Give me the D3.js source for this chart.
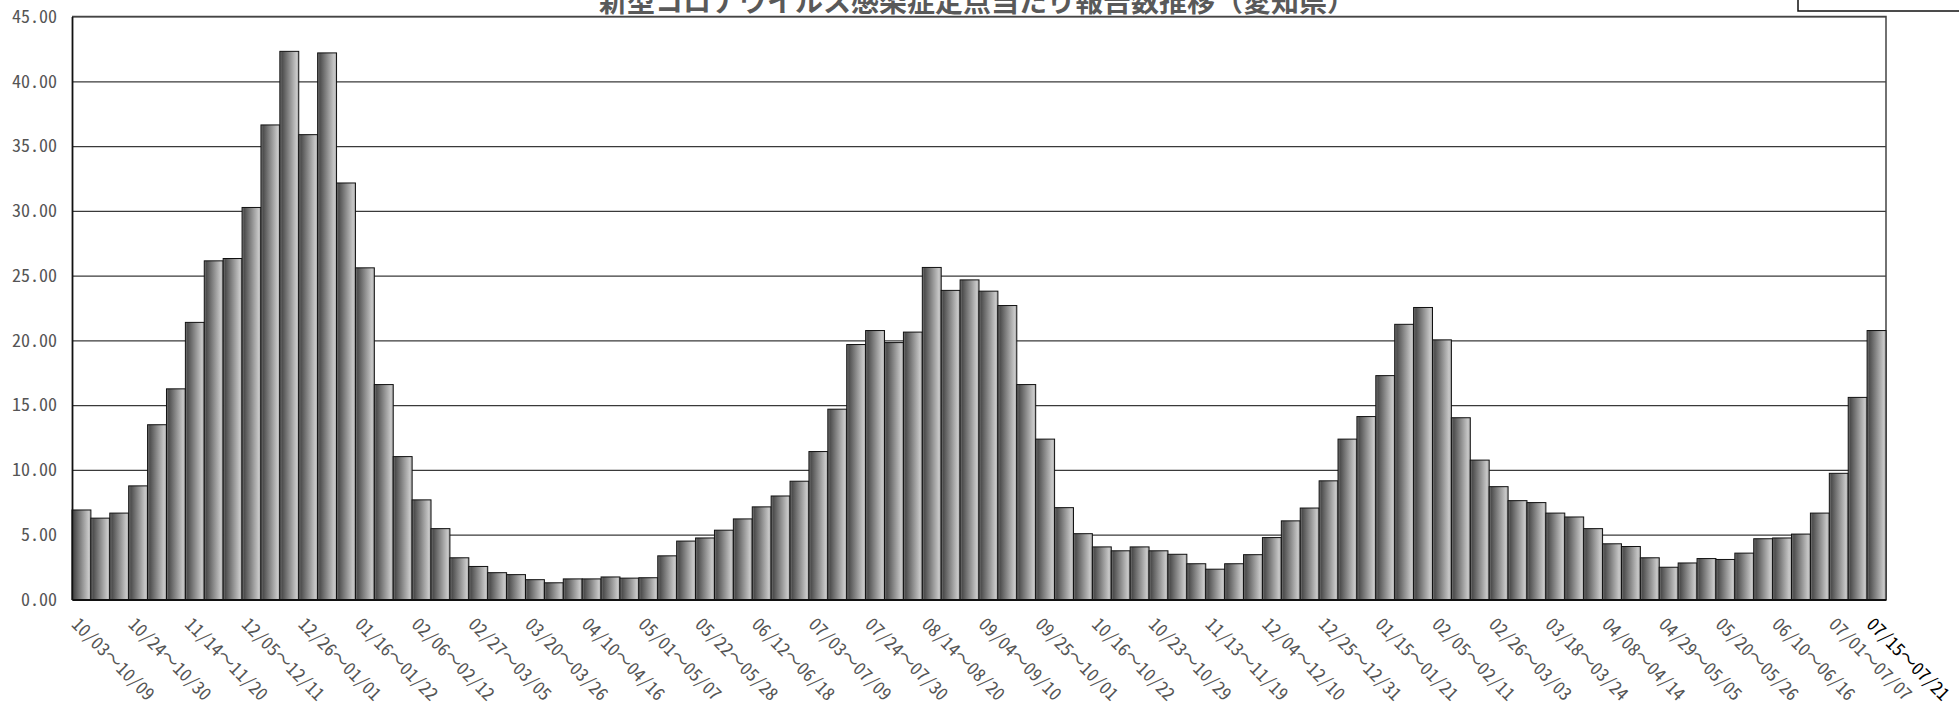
<!DOCTYPE html>
<html>
<head>
<meta charset="utf-8">
<script src="https://cdn.jsdelivr.net/npm/d3@7"></script>
<style>
  body { margin: 0; background: #fff; }
  svg { display: block; }
  .tick text { font-family: "Noto Sans Mono CJK JP", "DejaVu Sans Mono", "Noto Sans CJK JP", monospace; }
</style>
</head>
<body>
<svg width="1959" height="715"></svg>
<script>
// weekly periods (index 55/56 repeat the 10/23 and 10/16 weeks, as in the source sheet)
var categories = [
  "10/03～10/09","10/10～10/16","10/17～10/23","10/24～10/30","10/31～11/06","11/07～11/13",
  "11/14～11/20","11/21～11/27","11/28～12/04","12/05～12/11","12/12～12/18","12/19～12/25",
  "12/26～01/01","01/02～01/08","01/09～01/15","01/16～01/22","01/23～01/29","01/30～02/05",
  "02/06～02/12","02/13～02/19","02/20～02/26","02/27～03/05","03/06～03/12","03/13～03/19",
  "03/20～03/26","03/27～04/02","04/03～04/09","04/10～04/16","04/17～04/23","04/24～04/30",
  "05/01～05/07","05/08～05/14","05/15～05/21","05/22～05/28","05/29～06/04","06/05～06/11",
  "06/12～06/18","06/19～06/25","06/26～07/02","07/03～07/09","07/10～07/16","07/17～07/23",
  "07/24～07/30","07/31～08/06","08/07～08/13","08/14～08/20","08/21～08/27","08/28～09/03",
  "09/04～09/10","09/11～09/17","09/18～09/24","09/25～10/01","10/02～10/08","10/09～10/15",
  "10/16～10/22","10/23～10/29","10/16～10/22","10/23～10/29","10/30～11/05","11/06～11/12",
  "11/13～11/19","11/20～11/26","11/27～12/03","12/04～12/10","12/11～12/17","12/18～12/24",
  "12/25～12/31","01/01～01/07","01/08～01/14","01/15～01/21","01/22～01/28","01/29～02/04",
  "02/05～02/11","02/12～02/18","02/19～02/25","02/26～03/03","03/04～03/10","03/11～03/17",
  "03/18～03/24","03/25～03/31","04/01～04/07","04/08～04/14","04/15～04/21","04/22～04/28",
  "04/29～05/05","05/06～05/12","05/13～05/19","05/20～05/26","05/27～06/02","06/03～06/09",
  "06/10～06/16","06/17～06/23","06/24～06/30","07/01～07/07","07/08～07/14","07/15～07/21"
];

var values = [
  6.91, 6.28, 6.67, 8.77, 13.49, 16.26, 21.39, 26.14, 26.32, 30.26, 36.63, 42.31,
  35.88, 42.19, 32.15, 25.60, 16.59, 11.03, 7.69, 5.47, 3.22, 2.55, 2.07, 1.92,
  1.53, 1.29, 1.59, 1.59, 1.74, 1.65, 1.68, 3.37, 4.51, 4.75, 5.35, 6.22,
  7.15, 7.99, 9.13, 11.42, 14.69, 19.68, 20.76, 19.83, 20.64, 25.63, 23.86, 24.67,
  23.80, 22.69, 16.59, 12.38, 7.09, 5.08, 4.06, 3.76, 4.06, 3.76, 3.49, 2.76,
  2.34, 2.76, 3.46, 4.78, 6.07, 7.06, 9.16, 12.38, 14.12, 17.28, 21.24, 22.54,
  20.04, 14.03, 10.76, 8.71, 7.63, 7.48, 6.67, 6.37, 5.47, 4.30, 4.09, 3.22,
  2.49, 2.82, 3.16, 3.09, 3.58, 4.69, 4.75, 5.05, 6.67, 9.74, 15.60, 20.76
];

var yTicks = [0, 5, 10, 15, 20, 25, 30, 35, 40, 45];
var labelEvery = 3;
var title = "新型コロナウイルス感染症定点当たり報告数推移（愛知県）";

function main(){
    var svg = d3.select("svg"),
        left = 72, right = 1886, top = 16.5, bottom = 599.5;

    var x = d3.scaleBand().domain(d3.range(values.length)).range([left, right]).padding(0),
        y = d3.scaleLinear().domain([0, 45]).range([bottom, top]);

    // bar gradient
    var grad = svg.append("defs").append("linearGradient")
        .attr("id", "barGrad").attr("x1", "0").attr("x2", "1").attr("y1", "0").attr("y2", "0");
    grad.append("stop").attr("offset", "0").attr("stop-color", "#7a7a7a");
    grad.append("stop").attr("offset", "0.12").attr("stop-color", "#4e4e4e");
    grad.append("stop").attr("offset", "0.88").attr("stop-color", "#c8c8c8");
    grad.append("stop").attr("offset", "1").attr("stop-color", "#a4a4a4");

    // title (sits partly above the page edge, as in the original)
    svg.append("text")
        .attr("x", 977).attr("y", 12)
        .attr("text-anchor", "middle")
        .attr("font-family", "Noto Sans CJK JP")
        .attr("font-weight", "bold")
        .attr("font-size", "28px")
        .attr("fill", "#595959")
        .text(title);

    // legend frame, cut by the top-right corner
    svg.append("rect")
        .attr("x", 1798).attr("y", -30).attr("width", 220).attr("height", 41)
        .attr("fill", "#fff").attr("stroke", "#111").attr("stroke-width", 1.5);

    // gridlines
    svg.append("g")
        .attr("transform", "translate(" + left + ",0)")
        .call(d3.axisLeft(y).tickValues(yTicks).tickSize(-(right - left)).tickFormat(""))
        .call(function(g){
            g.select(".domain").remove();
            g.selectAll("line").attr("stroke", "#3a3a3a").attr("stroke-width", 1.2);
        });

    // frame top/right
    svg.append("path")
        .attr("d", "M" + left + "," + top + "H" + right + "V" + bottom)
        .attr("fill", "none").attr("stroke", "#444").attr("stroke-width", 1.5);

    svg.selectAll(".bar")
        .data(values)
        .enter().append("rect")
        .attr("class", "bar")
        .attr("x", function(d, i){ return x(i); })
        .attr("y", function(d){ return y(d); })
        .attr("width", x.bandwidth())
        .attr("height", function(d){ return bottom - y(d); })
        .attr("fill", "url(#barGrad)")
        .attr("stroke", "#111")
        .attr("stroke-width", 1);

    // y axis
    svg.append("g")
        .attr("transform", "translate(" + left + ",0)")
        .call(d3.axisLeft(y).tickValues(yTicks).tickSize(0).tickPadding(15).tickFormat(d3.format(".2f")))
        .call(function(g){
            g.select(".domain").attr("stroke", "#111").attr("stroke-width", 1.8);
            g.selectAll("text").attr("font-size", "18px").attr("fill", "#555");
        });

    // x axis
    var last = values.length - 1;
    var shown = d3.range(values.length).filter(function(i){ return i % labelEvery === 0 || i === last; });
    svg.append("g")
        .attr("transform", "translate(0," + bottom + ")")
        .call(d3.axisBottom(x).tickValues(shown).tickSize(0).tickFormat(function(i){ return categories[i]; }))
        .call(function(g){
            g.select(".domain").attr("stroke", "#111").attr("stroke-width", 1.8);
            g.selectAll("text")
                .attr("font-size", "18px")
                .attr("fill", function(i){ return i === last ? "#000" : "#555"; })
                .attr("text-anchor", "start")
                .attr("dy", null)
                .attr("y", 0)
                .attr("transform", "translate(-11,26) rotate(45)");
        });
}
main();
</script>
</body>
</html>
